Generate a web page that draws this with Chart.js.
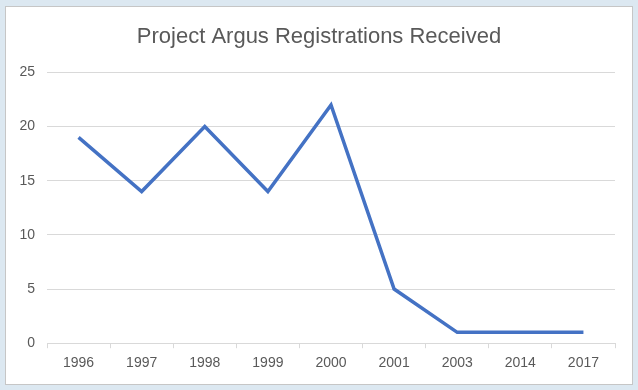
<!DOCTYPE html>
<html>
<head>
<meta charset="utf-8">
<script src="https://cdn.jsdelivr.net/npm/chart.js@4/dist/chart.umd.min.js"></script>
<style>
  html, body { margin: 0; padding: 0; background: #dce8f1; }
  #frame { position: relative; width: 638px; height: 390px; background: #dce8f1; }
  #box { position: absolute; left: 5px; top: 6px; width: 626px; height: 377px;
         border: 1px solid #c6c6c6; background: #fff; }
  canvas { display: block; }
</style>
</head>
<body>
<div id="frame"><div id="box"><canvas id="argusChart" width="626" height="377"></canvas></div></div>
<script>
// --- chart data ---
const years = ['1996', '1997', '1998', '1999', '2000', '2001', '2003', '2014', '2017'];
const registrations = [19, 14, 20, 14, 22, 5, 1, 1, 1];
const yTicks = [0, 5, 10, 15, 20, 25];

const textColor = '#595959';
const gridColor = '#d9d9d9';
const fontFamily = "'Liberation Sans', Arial, sans-serif";

// center the title over the whole canvas, not the padded box
const centerTitle = {
  id: 'centerTitle',
  afterLayout(chart) {
    const t = chart.titleBlock;
    if (t) { t.left = 0; t.right = chart.width; }
  }
};

const ctx = document.getElementById('argusChart').getContext('2d');
new Chart(ctx, {
  type: 'line',
  data: {
    labels: years,
    datasets: [{
      label: 'Registrations',
      data: registrations,
      borderColor: '#4472c4',
      borderWidth: 3.5,
      pointRadius: 0,
      tension: 0,
      fill: false
    }]
  },
  options: {
    responsive: false,
    animation: false,
    layout: { padding: { left: 0, right: 17, top: 0, bottom: 5 } },
    plugins: {
      legend: { display: false },
      tooltip: { enabled: false },
      title: {
        display: true,
        text: 'Project Argus Registrations Received',
        color: textColor,
        font: { family: fontFamily, size: 22, weight: 'normal' },
        padding: { top: 17, bottom: 22 }
      }
    },
    scales: {
      x: {
        offset: true,
        grid: { offset: true, drawOnChartArea: false, color: gridColor, tickLength: 5 },
        border: { color: gridColor },
        ticks: { color: textColor, padding: 7, font: { family: fontFamily, size: 14 }, maxRotation: 0 }
      },
      y: {
        min: yTicks[0],
        max: yTicks[yTicks.length - 1],
        afterFit: axis => { axis.width = 41; },
        afterBuildTicks: axis => { axis.ticks = yTicks.map(v => ({ value: v })); },
        grid: { color: gridColor, drawTicks: false },
        border: { display: false },
        ticks: { color: textColor, padding: 12, font: { family: fontFamily, size: 14 } }
      }
    }
  },
  plugins: [centerTitle]
});
</script>
</body>
</html>
